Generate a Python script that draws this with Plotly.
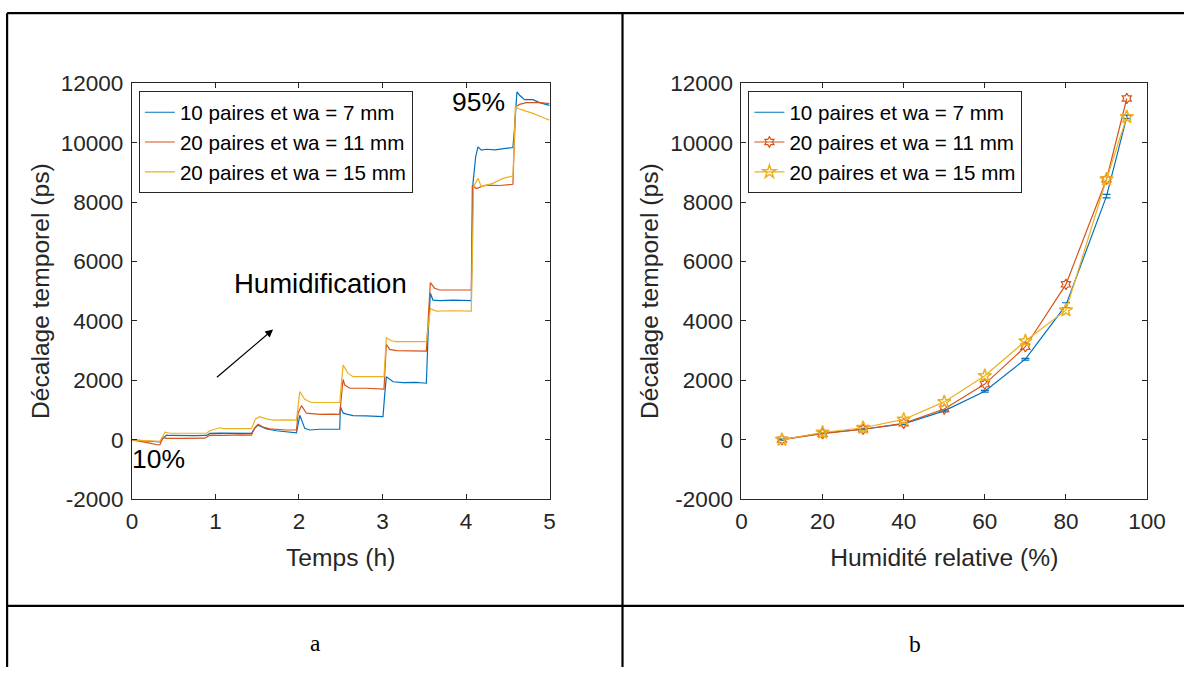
import plotly.graph_objects as go

# ---------------- (a) time series : Décalage temporel vs Temps ----------------
t_7mm = [0, 0.10, 0.20, 0.30, 0.335, 0.375, 0.415, 0.455, 0.60, 0.75, 0.893, 0.933, 1.05, 1.25, 1.431,
         1.47, 1.511, 1.611, 1.73, 1.97, 1.99, 2.01, 2.069, 2.129, 2.249, 2.40, 2.488, 2.496, 2.528,
         2.568, 2.648, 2.80, 3.006, 3.026, 3.046, 3.126, 3.246, 3.40, 3.525, 3.545, 3.573, 3.604, 3.684,
         3.85, 4.063, 4.083, 4.115, 4.143, 4.183, 4.242, 4.35, 4.45, 4.561, 4.581, 4.609, 4.641, 4.701,
         4.801, 4.880, 5.0]
v_7mm = [-10, -30, -45, -90, -80, 60, 150, 140, 130, 135, 140, 210, 220, 205, 210,
         380, 490, 360, 300, 225, 600, 820, 380, 325, 350, 340, 350, 1110, 900,
         860, 810, 800, 775, 1500, 2120, 1950, 1920, 1930, 1900, 3500, 4930, 4700, 4680,
         4700, 4680, 8630, 9520, 9860, 9750, 9780, 9760, 9800, 9840, 10500, 11710, 11600, 11450,
         11450, 11350, 11260]

t_11mm = [0, 0.096, 0.215, 0.315, 0.335, 0.375, 0.415, 0.60, 0.80, 0.873, 0.933, 1.10, 1.30, 1.431,
          1.47, 1.511, 1.571, 1.651, 1.85, 1.97, 1.99, 2.03, 2.089, 2.249, 2.40, 2.488, 2.528,
          2.548, 2.608, 2.80, 3.018, 3.046, 3.086, 3.166, 3.35, 3.525, 3.573, 3.624, 3.684, 3.85,
          4.063, 4.075, 4.123, 4.183, 4.242, 4.40, 4.561, 4.593, 4.641, 4.721, 4.880, 5.0]
v_11mm = [-10, -70, -120, -180, -170, 70, 45, 40, 50, 50, 150, 140, 160, 150,
          400, 520, 420, 360, 325, 325, 900, 1145, 890, 850, 860, 850, 2030,
          1840, 1730, 1730, 1700, 3210, 3040, 3000, 2990, 2980, 5290, 5100, 5040, 5050,
          5040, 8570, 8460, 8520, 8570, 8560, 8600, 11210, 11290, 11350, 11350, 11320]

t_15mm = [0, 0.175, 0.295, 0.335, 0.375, 0.395, 0.455, 0.65, 0.893, 0.933, 1.053, 1.093, 1.25, 1.431,
          1.48, 1.531, 1.611, 1.691, 1.85, 1.97, 2.01, 2.069, 2.149, 2.30, 2.488, 2.528, 2.588,
          2.648, 2.85, 3.018, 3.046, 3.106, 3.166, 3.35, 3.525, 3.573, 3.644, 3.85, 4.063, 4.091,
          4.143, 4.183, 4.242, 4.322, 4.442, 4.502, 4.561, 4.593, 4.621, 4.681, 4.801, 4.920, 5.0]
v_15mm = [-10, -30, -55, -55, 150, 250, 215, 220, 215, 300, 400, 370, 375, 370,
          700, 775, 700, 660, 665, 660, 1615, 1360, 1250, 1240, 1250, 2510, 2230,
          2120, 2130, 2120, 3430, 3330, 3300, 3290, 3300, 4410, 4330, 4340, 4330, 8520,
          8800, 8520, 8560, 8630, 8800, 8840, 8880, 11230, 11150, 11100, 10990, 10850, 10760]

# ---------------- (b) Décalage temporel vs Humidité relative ----------------
rh = [10, 20, 30, 40, 50, 60, 70, 80, 90, 95]
dec_7mm = [0, 220, 350, 530, 970, 1630, 2710, 4530, 8200, 10870]
err_7mm = [20, 20, 20, 25, 30, 30, 30, 80, 60, 60]
dec_11mm = [0, 200, 350, 550, 1030, 1870, 3130, 5230, 8770, 11490]
dec_15mm = [0, 240, 400, 680, 1270, 2150, 3320, 4360, 8770, 10870]

# axis ticks
time_ticks = [0, 1, 2, 3, 4, 5]
rh_ticks = [0, 20, 40, 60, 80, 100]
dec_ticks = [-2000, 0, 2000, 4000, 6000, 8000, 10000, 12000]
dec_ticklabels = ["-2000", "0", "2000", "4000", "6000", "8000", "10000", "12000"]

names = ["10 paires et wa = 7 mm", "20 paires et wa = 11 mm", "20 paires et wa = 15 mm"]
colors = ["#0072BD", "#D95319", "#EDB120"]

W, H = 1203, 680
FONT = "Liberation Sans, Arial, sans-serif"
INK = "#262626"

# screen-pixel position -> paper fraction (the page is shown slightly scaled and offset)
SX, OX = 0.98, 6.0
SY, OY = 0.964, 11.6


def px(x):
    return ((x - OX) / SX) / W


def py(y):
    return 1 - ((y - OY) / SY) / H


fig = go.Figure()

for t, v, n, c in zip([t_7mm, t_11mm, t_15mm], [v_7mm, v_11mm, v_15mm], names, colors):
    fig.add_trace(go.Scatter(x=t, y=v, name=n, mode="lines",
                             line=dict(color=c, width=1.2),
                             xaxis="x", yaxis="y", legend="legend"))

fig.add_trace(go.Scatter(x=rh, y=dec_7mm, name=names[0], mode="lines",
                         line=dict(color=colors[0], width=1.2),
                         error_y=dict(type="data", array=err_7mm, color=colors[0],
                                      thickness=1.2, width=4),
                         xaxis="x2", yaxis="y2", legend="legend2"))
fig.add_trace(go.Scatter(x=rh, y=dec_11mm, name=names[1], mode="lines+markers",
                         line=dict(color=colors[1], width=1.2),
                         marker=dict(symbol="hexagram-open", size=8, color=colors[1],
                                     line=dict(width=1.2, color=colors[1])),
                         xaxis="x2", yaxis="y2", legend="legend2"))
fig.add_trace(go.Scatter(x=rh, y=dec_15mm, name=names[2], mode="lines+markers",
                         line=dict(color=colors[2], width=1.2),
                         marker=dict(symbol="star-open", size=10, color=colors[2],
                                     line=dict(width=1.5, color=colors[2])),
                         xaxis="x2", yaxis="y2", legend="legend2"))

axis_common = dict(showline=True, linecolor=INK, linewidth=1, mirror="ticks",
                   ticks="inside", ticklen=5, tickcolor=INK, tickwidth=1,
                   showgrid=False, zeroline=False,
                   tickfont=dict(family=FONT, size=22.5, color=INK),
                   title_font=dict(family=FONT, size=24.6, color=INK))

y_dom = [py(499), py(83)]

fig.update_layout(
    width=W, height=H,
    margin=dict(l=0, r=0, t=0, b=0),
    paper_bgcolor="white", plot_bgcolor="white",
    xaxis=dict(domain=[px(132), px(550)], range=[0, 5], tickvals=time_ticks,
               title=dict(text="Temps (h)", standoff=15), ticklabelstandoff=2,
               anchor="y", **axis_common),
    yaxis=dict(domain=y_dom, range=[-2000, 12000], tickvals=dec_ticks, ticktext=dec_ticklabels,
               title=dict(text="Décalage temporel (ps)", standoff=4), ticklabelstandoff=3,
               anchor="x", **axis_common),
    xaxis2=dict(domain=[px(742), px(1148)], range=[0, 100], tickvals=rh_ticks,
                title=dict(text="Humidité relative (%)", standoff=15), ticklabelstandoff=2,
                anchor="y2", **axis_common),
    yaxis2=dict(domain=y_dom, range=[-2000, 12000], tickvals=dec_ticks, ticktext=dec_ticklabels,
                title=dict(text="Décalage temporel (ps)", standoff=4), ticklabelstandoff=3,
                anchor="x2", **axis_common),
    legend=dict(x=px(139), y=py(91), xanchor="left", yanchor="top",
                bgcolor="white", bordercolor=INK, borderwidth=1,
                font=dict(family=FONT, size=20.6, color="black"), tracegroupgap=0),
    legend2=dict(x=px(749), y=py(91), xanchor="left", yanchor="top",
                 bgcolor="white", bordercolor=INK, borderwidth=1,
                 font=dict(family=FONT, size=20.6, color="black"), tracegroupgap=0),
    showlegend=True,
)

# annotations inside panel (a)
fig.add_annotation(x=2.26, y=5270, xref="x", yref="y", text="Humidification", showarrow=False,
                   font=dict(family=FONT, size=27.5, color="black"))
fig.add_annotation(x=4.15, y=11370, xref="x", yref="y", text="95%", showarrow=False,
                   font=dict(family=FONT, size=26.5, color="black"))
fig.add_annotation(x=0.317, y=-650, xref="x", yref="y", text="10%", showarrow=False,
                   font=dict(family=FONT, size=26.5, color="black"))
fig.add_annotation(x=1.69, y=3710, ax=1.0, ay=2060, xref="x", yref="y", axref="x", ayref="y",
                   text="", showarrow=True, arrowhead=2, arrowsize=1.3, arrowwidth=1.2,
                   arrowcolor="black")

# sub-figure captions
for label, xc, yc in [("a", 316, 643), ("b", 916, 644)]:
    fig.add_annotation(x=px(xc), y=py(yc), xref="paper", yref="paper", text=label,
                       xanchor="center", yanchor="middle", showarrow=False,
                       font=dict(family="Liberation Serif, Times New Roman, serif", size=23.5,
                                 color="black"))

# table frame around the two panels
frame = [
    (px(7.1), py(12.8), 1.0, py(12.8)),     # top border
    (px(7.1), py(12.8), px(7.1), 0.0),      # left border
    (px(623), py(12.8), px(623), 0.0),      # middle divider
    (px(7.1), py(606), 1.0, py(606)),       # row divider
]
for x0, y0, x1, y1 in frame:
    fig.add_shape(type="line", xref="paper", yref="paper", x0=x0, y0=y0, x1=x1, y1=y1,
                  line=dict(color="black", width=2.2))

fig.write_html("out.html")
